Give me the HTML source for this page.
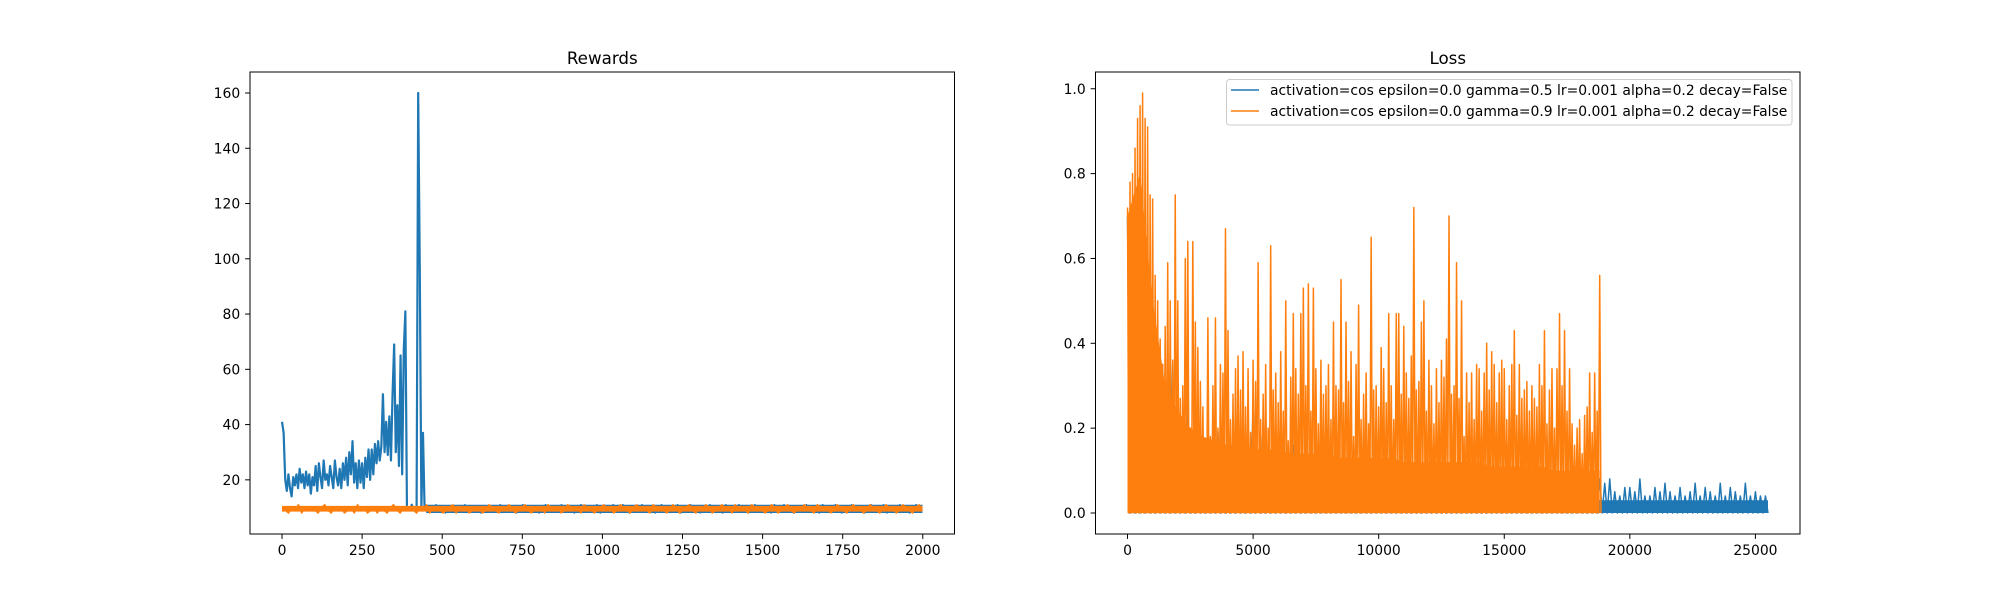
<!DOCTYPE html>
<html><head><meta charset="utf-8"><style>
html,body{margin:0;padding:0;background:#fff;}
svg{display:block;font-family:"DejaVu Sans","Liberation Sans",sans-serif;}
</style></head><body>
<svg id="fig" width="2000" height="600" viewBox="0 0 2000 600" xmlns="http://www.w3.org/2000/svg">
<rect width="2000" height="600" fill="#fff"/>
<g id="left"></g>
<g id="right"></g>
</svg>
<script>
// ---------- Rewards data ----------
const rewardXTicks = [0,250,500,750,1000,1250,1500,1750,2000];
const rewardYTicks = [20,40,60,80,100,120,140,160];
const episodeCount = 2000;
const blueEarlyStep = 5;
const blueRewardsEarly = [41,37,20,16,22,17,14,21,18,22,17,24,19,22,17,23,18,22,15,21,18,25,16,26,21,17,27,20,22,18,25,21,17,27,21,18,24,17,26,20,28,18,30,22,34,19,26,17,27,19,26,17,28,21,31,20,31,22,33,26,34,27,32,51,30,41,29,43,27,51,69,30,47,25,65,22,67,81,9,10,9,11,9,10,9,160,96,10,37,9];
const blueLateStart = 450;
const blueRewardsLate = [9,10,9,11,9,10,8,10,9,10,10,9,11,9,10,9,10,8,10,9,9,10,10,11,9,9,10,10,8,10,11,9,10,9,10,8,9,11,10,9,9,10,11,9,10,9,8,10,11,10,10,9,10,11,8,9,10,9,11,10,9,11,10,8,10,9,10,11,9,10,10,8,9,11,10,9,10,9,11,8,9,10,11,9,10,8,10,9,11,10,10,9,8,11,9,10,9,11,10,9,8,10,11,9,10,9,10,8,11,10,9,11,10,9,8,10,9,10,11,9,10,9,8,11,10,9,10,11,9,8,10,9,11,10,9,10,8,9,11,10,9,10,11,8,10,9,10,11,9,10,8,9,11,10,9];
const blueRewardBand = [8, 11];
const orangeRewards = [10,9,8,10,9,11,8,10,9,10,9,8,10,11,9,8,10,9,10,8,9,10,8,11,9,10,8,9,10,8,10,9,8,10,11,9,8,10,9,10,9,8,10,9,11,8,10,9,10,8,9,10,11,8,10,9,10,8,9,10,10,8,9,11,10,9,8,10,9,11,10,8,9,10,11,9,8,10,9,10,8,11,10,9,10,8,9,11,10,9,10,8,11,9,10,8,9,10,11,9,10,8,9,11,10,9,8,10,11,9,10,9,8,11,10,9,10,8,9,11,10,8,9,10,11,9,8,10,9,11,10,8,9,10,11,9,10,8,11,9,10,9,8,11,10,9,10,8,9,11,10,8,9,10,11,9,8,10,9,11,10,9,8,11,10,9,10,8,9,11,10,9,8,10,11,9,10,8,9,11,10,9,8,10,11,9,10,8,9,11,10,9,8,10,11,9];
const orangeRewardBand = [8.5, 10.6];
// ---------- Loss data ----------
const lossXTicks = [0,5000,10000,15000,20000,25000];
const lossYTicks = [0.0,0.2,0.4,0.6,0.8,1.0];
const orangeLossStep = 100;
const orangeLoss = [.72,.78,.80,.86,.93,.96,.99,.93,.91,.75,
.74,.56,.50,.41,.35,.44,.59,.50,.36,.75,
.50,.27,.30,.60,.64,.20,.64,.45,.39,.31,
.25,.14,.46,.18,.30,.46,.20,.35,.33,.67,
.43,.22,.28,.34,.37,.29,.38,.25,.34,.19,
.36,.31,.59,.22,.28,.35,.20,.63,.29,.33,
.26,.38,.24,.50,.17,.32,.47,.34,.28,.47,
.53,.30,.54,.24,.53,.34,.21,.36,.28,.30,
.35,.22,.45,.30,.29,.55,.26,.45,.31,.38,
.18,.35,.49,.22,.28,.33,.21,.65,.29,.30,
.25,.39,.34,.26,.47,.30,.22,.47,.47,.28,
.44,.33,.27,.37,.72,.29,.31,.45,.50,.24,
.36,.30,.21,.34,.26,.36,.32,.41,.70,.28,
.30,.59,.27,.50,.18,.33,.26,.33,.22,.35,
.34,.24,.33,.40,.29,.38,.35,.26,.33,.36,
.34,.22,.30,.35,.43,.23,.35,.27,.29,.31,
.24,.30,.27,.25,.35,.30,.43,.21,.29,.34,
.20,.34,.47,.30,.43,.24,.34,.21,.16,.20,
.22,.14,.23,.25,.33,.19,.33,.24,.56];
const orangeBodyStep = 500;
const orangeLossBody = [.70,.80,.50,.30,.24,.20,.18,.17,.16,.16,.15,.15,.15,.14,.14,.14,.14,.13,.13,.13,.13,.13,.12,.12,.12,.12,.12,.12,.12,.11,.11,.11,.11,.11,.10,.10,.10,.10];
const blueLossStep = 200;
const blueLoss = [.70,.04,.60,.50,.40,.35,.30,.35,.20,.36,
.25,.20,.27,.15,.20,.18,.12,.20,.19,.14,
.16,.12,.18,.15,.13,.26,.14,.22,.12,.15,
.10,.14,.12,.16,.11,.13,.10,.12,.14,.09,
.12,.11,.10,.13,.09,.12,.10,.11,.09,.12,
.10,.08,.11,.09,.12,.10,.08,.11,.09,.10,
.08,.10,.09,.11,.08,.10,.07,.09,.10,.08,
.09,.07,.10,.08,.09,.07,.08,.10,.07,.09,
.08,.07,.09,.08,.07,.09,.08,.07,.08,.09,
.07,.08,.07,.09,.08,.07,.08,.05,.04,.06,
.06,.05,.08,.04,.04,.06,.05,.07,.05,.04,
.06,.04,.05,.07,.04,.06,.05,.04,.07,.04,
.06,.05,.04,.07,.04,.05,.04,.04];
const blueBodyLevel = 0.03;

const NS = "http://www.w3.org/2000/svg";
const BLUE = "#1f77b4", ORANGE = "#ff7f0e";
function mk(parent, tag, attrs, text) {
  const el = document.createElementNS(NS, tag);
  for (const k in attrs) el.setAttribute(k, attrs[k]);
  if (text !== undefined) el.textContent = text;
  parent.appendChild(el);
  return el;
}
function makeScale(d0, d1, p0, p1) { return v => p0 + (v - d0) / (d1 - d0) * (p1 - p0); }

function drawAxes(g, box, xs, ys, xTicks, yTicks, yFmt, title) {
  const ax = mk(g, 'rect', {x: box.l, y: box.t, width: box.r - box.l, height: box.b - box.t, fill: 'none', stroke: '#000', 'stroke-width': 1});
  
  
  xTicks.forEach(v => {
    const x = xs(v);
    const tk = mk(g, 'line', {x1: x, x2: x, y1: box.b, y2: box.b + 4.9, stroke: '#000', 'stroke-width': 1});
    
    
    const t = mk(g, 'text', {x: x, y: box.b + 21, 'text-anchor': 'middle', 'font-size': 13.9, fill: '#000'}, String(v));
    
    
  });
  yTicks.forEach(v => {
    const y = ys(v);
    const tk = mk(g, 'line', {x1: box.l - 4.9, x2: box.l, y1: y, y2: y, stroke: '#000', 'stroke-width': 1});
    
    
    const t = mk(g, 'text', {x: box.l - 9.8, y: y + 5, 'text-anchor': 'end', 'font-size': 13.9, fill: '#000'}, yFmt(v));
    
    
  });
  const tt = mk(g, 'text', {x: (box.l + box.r) / 2, y: box.t - 8, 'text-anchor': 'middle', 'font-size': 16.7, fill: '#000'}, title);
  
  
}
function line(g, pts, color, name, w) {
  const p = mk(g, 'polyline', {points: pts.map(a => a[0].toFixed(2) + ',' + a[1].toFixed(2)).join(' '), fill: 'none', stroke: color, 'stroke-width': w || 1.5, 'stroke-linejoin': 'round'});
  
  
  return p;
}
function area(g, pts, color, name) {
  const p = mk(g, 'polygon', {points: pts.map(a => a[0].toFixed(2) + ',' + a[1].toFixed(2)).join(' '), fill: color, stroke: 'none'});
  
  
  return p;
}

// ---------- Left: Rewards ----------
(function () {
  const g = document.getElementById('left');
  const box = {l: 250, r: 954.5, t: 72, b: 534};
  const xmax = episodeCount - 1, allVals = blueRewardsEarly.concat(blueRewardsLate, orangeRewards);
  const vmin = Math.min(...allVals), vmax = Math.max(...allVals);
  const xs = makeScale(-0.05 * xmax, xmax * 1.05, box.l, box.r);
  const pad = (vmax - vmin) * 0.05;
  const ys = makeScale(vmin - pad, vmax + pad, box.b, box.t);
  const clip = mk(g, 'clipPath', {id: 'clipL'});
  mk(clip, 'rect', {x: box.l, y: box.t, width: box.r - box.l, height: box.b - box.t});
  const pg = mk(g, 'g', {'clip-path': 'url(#clipL)'});
  
  
  const lateStep = (xmax - blueLateStart) / (blueRewardsLate.length - 1);
  area(pg, [[xs(blueLateStart), ys(blueRewardBand[1])], [xs(xmax), ys(blueRewardBand[1])], [xs(xmax), ys(blueRewardBand[0])], [xs(blueLateStart), ys(blueRewardBand[0])]], BLUE, 'rewards-band-gamma-0.5');
  const be = blueRewardsEarly.map((v, i) => [xs(i * blueEarlyStep), ys(v)]);
  line(pg, be, BLUE, 'rewards-series-gamma-0.5-early', 2.2);
  const bl = blueRewardsLate.map((v, i) => [xs(blueLateStart + i * lateStep), ys(v)]);
  line(pg, bl, BLUE, 'rewards-series-gamma-0.5-late');
  const oStep = xmax / (orangeRewards.length - 1);
  area(pg, [[xs(0), ys(orangeRewardBand[1])], [xs(xmax), ys(orangeRewardBand[1])], [xs(xmax), ys(orangeRewardBand[0])], [xs(0), ys(orangeRewardBand[0])]], ORANGE, 'rewards-band-gamma-0.9');
  const op = orangeRewards.map((v, i) => [xs(i * oStep), ys(v)]);
  line(pg, op, ORANGE, 'rewards-series-gamma-0.9');
  drawAxes(g, box, xs, ys, rewardXTicks, rewardYTicks, v => String(v), 'Rewards');
})();

// ---------- Right: Loss ----------
(function () {
  const g = document.getElementById('right');
  const box = {l: 1095.5, r: 1800, t: 72, b: 534};
  const xmax = (blueLoss.length - 1) * blueLossStep + blueLossStep / 2;
  const vmax = Math.max(...orangeLoss, ...blueLoss), vmin = 0;
  const xs = makeScale(-0.05 * xmax, xmax * 1.05, box.l, box.r);
  const pad = (vmax - vmin) * 0.05;
  const ys = makeScale(vmin - pad, vmax + pad, box.b, box.t);
  const clip = mk(g, 'clipPath', {id: 'clipR'});
  mk(clip, 'rect', {x: box.l, y: box.t, width: box.r - box.l, height: box.b - box.t});
  const pg = mk(g, 'g', {'clip-path': 'url(#clipR)'});
  
  
  area(pg, [[xs(0), ys(0)], [xs(0), ys(blueBodyLevel)], [xs(xmax), ys(blueBodyLevel)], [xs(xmax), ys(0)]], BLUE, 'loss-body-gamma-0.5');
  const bp = [];
  blueLoss.forEach((v, i) => { bp.push([xs(i * blueLossStep), ys(v)]); bp.push([xs(i * blueLossStep + blueLossStep / 2), ys(0)]); });
  line(pg, bp, BLUE, 'loss-series-gamma-0.5');
  const oEnd = (orangeLoss.length - 1) * orangeLossStep;
  const body = [[xs(0), ys(0)]];
  orangeLossBody.forEach((v, i) => body.push([xs(Math.min(i * orangeBodyStep, oEnd)), ys(v)]));
  body.push([xs(oEnd), ys(orangeLossBody[orangeLossBody.length - 1])]);
  body.push([xs(oEnd), ys(0)]);
  area(pg, body, ORANGE, 'loss-body-gamma-0.9');
  const op = [];
  orangeLoss.forEach((v, i) => { op.push([xs(i * orangeLossStep), ys(v)]); op.push([xs(i * orangeLossStep + orangeLossStep / 2), ys(0)]); });
  line(pg, op, ORANGE, 'loss-series-gamma-0.9');
  drawAxes(g, box, xs, ys, lossXTicks, lossYTicks, v => v.toFixed(1), 'Loss');

  const lg = mk(g, 'g', {});
  
  
  mk(lg, 'rect', {x: 1226.5, y: 79.5, width: 565.5, height: 45.5, rx: 3, fill: '#fff', 'fill-opacity': 0.8, stroke: '#ccc', 'stroke-width': 1});
  const entries = [['activation=cos epsilon=0.0 gamma=0.5 lr=0.001 alpha=0.2 decay=False', BLUE, 90],
                   ['activation=cos epsilon=0.0 gamma=0.9 lr=0.001 alpha=0.2 decay=False', ORANGE, 111]];
  entries.forEach(e => {
    const eg = mk(lg, 'g', {});
    
    
    mk(eg, 'line', {x1: 1231, x2: 1259, y1: e[2], y2: e[2], stroke: e[1], 'stroke-width': 1.5});
    mk(eg, 'text', {x: 1270, y: e[2] + 5, 'font-size': 13.9, fill: '#000'}, e[0]);
  });
})();
</script>
</body></html>
